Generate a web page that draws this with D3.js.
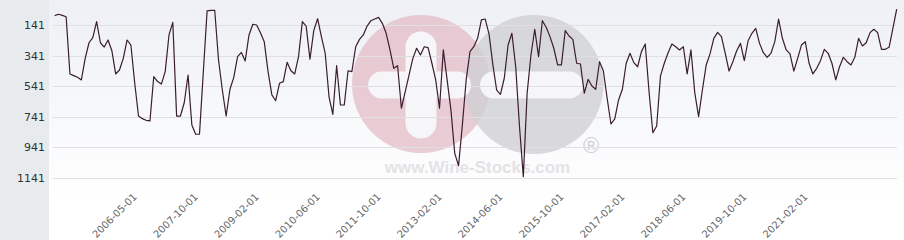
<!DOCTYPE html>
<html>
<head>
<meta charset="utf-8">
<script src="https://cdn.jsdelivr.net/npm/d3@7"></script>
<style>
  html, body { margin: 0; padding: 0; background: #fff; }
  svg { display: block; }
</style>
</head>
<body>
<div id="chart"></div>
<script>
// rank history, one value per period (smaller = better, axis is reversed)
const values = [
  80, 71, 78, 87, 461, 472, 483, 500, 359, 257,
  224, 119, 257, 285, 239, 309, 461, 435, 359, 239,
  272, 520, 736, 753, 764, 768, 478, 511, 527, 446,
  206, 124, 736, 736, 649, 468, 795, 855, 855, 452,
  49, 45, 45, 370, 566, 736, 561, 483, 348, 320,
  376, 206, 136, 141, 191, 250, 446, 598, 636, 522,
  511, 385, 440, 461, 348, 119, 148, 365, 178, 100,
  217, 326, 610, 725, 407, 664, 664, 440, 446, 283,
  235, 206, 148, 113, 102, 91, 130, 195, 304, 424,
  407, 685, 577, 468, 359, 293, 337, 283, 289, 391,
  500, 685, 304, 500, 697, 980, 1060, 795, 500, 315,
  283, 228, 108, 102, 200, 400, 566, 594, 489, 272,
  195, 414, 806, 1132, 587, 337, 169, 348, 113, 156,
  217, 293, 402, 402, 178, 213, 235, 391, 396, 587,
  496, 540, 561, 381, 440, 620, 788, 755, 631, 561,
  391, 326, 387, 414, 315, 265, 577, 845, 801, 474,
  391, 322, 265, 283, 304, 283, 461, 304, 583, 740,
  566, 402, 330, 228, 189, 217, 326, 442, 381, 309,
  261, 374, 244, 195, 163, 261, 322, 352, 326, 250,
  102, 228, 304, 330, 442, 359, 272, 250, 391, 461,
  424, 374, 300, 326, 391, 500, 414, 352, 381, 402,
  352, 228, 278, 257, 191, 169, 191, 300, 300, 287,
  163, 38
]

const yTicks = [141, 341, 541, 741, 941, 1141]

const tickLabels = [
  '2006-05-01', '2007-10-01', '2009-02-01', '2010-06-01', '2011-10-01', '2013-02-01',
  '2014-06-01', '2015-10-01', '2017-02-01', '2018-06-01', '2019-10-01', '2021-02-01'
]
const tickStart = 22, tickStep = 16
const tickIdx = tickLabels.map((_, i) => tickStart + i * tickStep)

const W = 904, H = 240
const panelW = 49
const plotL = 53, plotR = 897

const svg = d3.select('#chart').append('svg').attr('width', W).attr('height', H)

const defs = svg.append('defs')
const grad = defs.append('linearGradient').attr('id', 'bg').attr('x1', 0).attr('y1', 0).attr('x2', 0).attr('y2', 1)
grad.append('stop').attr('offset', '0%').attr('stop-color', '#eef0f5')
grad.append('stop').attr('offset', '85%').attr('stop-color', '#ffffff')

// backgrounds
svg.append('rect').attr('x', panelW).attr('y', 0).attr('width', W - panelW).attr('height', H).attr('fill', 'url(#bg)')
svg.append('rect').attr('x', 0).attr('y', 0).attr('width', panelW).attr('height', H).attr('fill', '#e8ebee')

const x = d3.scaleLinear().domain([0, values.length - 1]).range([54.7, 896.7])
const y = d3.scaleLinear().domain([141, 1141]).range([25, 178])

// watermark
const wm = svg.append('g')
wm.append('circle').attr('cx', 421).attr('cy', 84).attr('r', 69).attr('fill', '#e3b8c3').attr('opacity', 0.7)
wm.append('circle').attr('cx', 534).attr('cy', 84.5).attr('r', 69.5).attr('fill', '#cfcfd3').attr('opacity', 0.78)
const pill = '#f6f6f9'
wm.append('rect').attr('x', 368).attr('y', 71.5).attr('width', 103).attr('height', 27).attr('rx', 13.5).attr('fill', pill)
wm.append('rect').attr('x', 480).attr('y', 71.5).attr('width', 103).attr('height', 27).attr('rx', 13.5).attr('fill', pill)
wm.append('rect').attr('x', 405.5).attr('y', 31.5).attr('width', 31).attr('height', 107).attr('rx', 15.5).attr('fill', pill)
wm.append('text').attr('x', 477.5).attr('y', 172.5).attr('text-anchor', 'middle')
  .style('font', 'bold 17px "Liberation Sans", Arial, sans-serif').attr('fill', '#e3e3e6')
  .text('www.Wine-Stocks.com')
wm.append('text').attr('x', 591).attr('y', 152.5).attr('text-anchor', 'middle')
  .style('font', '22px "Liberation Sans", Arial, sans-serif').attr('fill', '#d0d0d3')
  .text('®')

// grid
const grid = svg.append('g').attr('transform', `translate(${plotL},0)`)
  .call(d3.axisRight(y).tickValues(yTicks).tickSize(plotR - plotL).tickFormat(''))
grid.select('.domain').remove()
grid.selectAll('line').attr('stroke', '#e0e0e3').attr('shape-rendering', 'crispEdges')

// y labels
const yAxis = svg.append('g').attr('transform', 'translate(45,0)')
  .call(d3.axisLeft(y).tickValues(yTicks).tickSize(0).tickPadding(0).tickFormat(d3.format('d')))
yAxis.select('.domain').remove()
yAxis.selectAll('text').style('font', '11px "DejaVu Sans", sans-serif').attr('fill', '#333')

// x labels
const xAxis = svg.append('g').attr('transform', 'translate(0,196)')
  .call(d3.axisBottom(x).tickValues(tickIdx).tickSize(0).tickFormat((d, i) => tickLabels[i]))
xAxis.select('.domain').remove()
xAxis.selectAll('text')
  .attr('x', -2).attr('y', 0).attr('dy', 0)
  .attr('transform', 'rotate(-45)')
  .style('text-anchor', 'end')
  .style('font', '10px "DejaVu Sans", sans-serif')
  .attr('fill', '#666')

// series
const line = d3.line().x((d, i) => x(i)).y(d => y(d))
svg.append('path').datum(values)
  .attr('d', line)
  .attr('fill', 'none')
  .attr('stroke', '#3a1d2e')
  .attr('stroke-width', 1.2)
  .attr('stroke-linejoin', 'round')
</script>
</body>
</html>
